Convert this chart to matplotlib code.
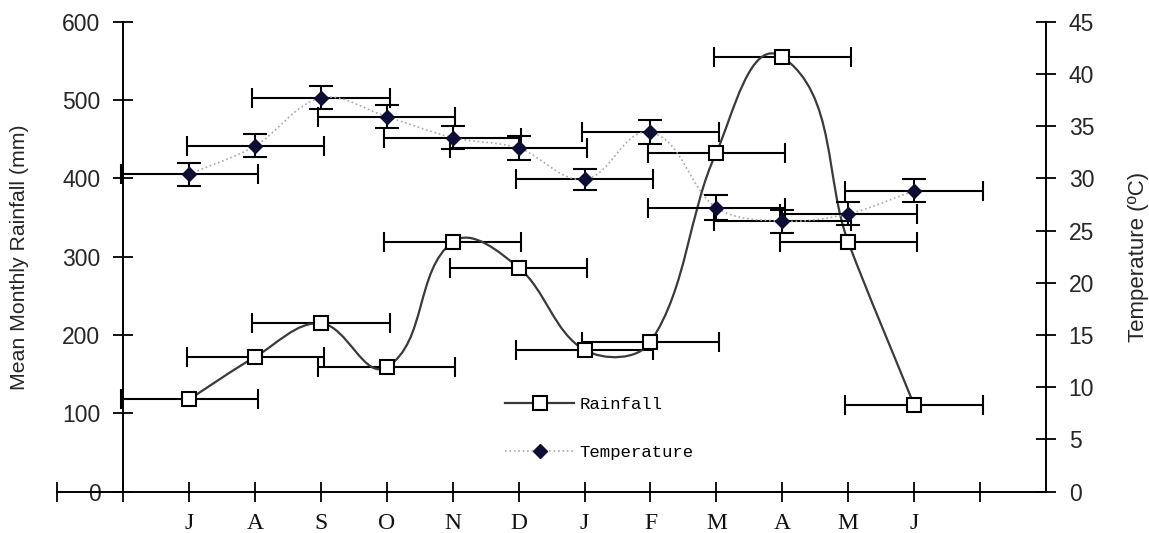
import numpy as np
import matplotlib
matplotlib.use("Agg")
import matplotlib.pyplot as plt
from matplotlib.path import Path
from matplotlib.patches import PathPatch
from matplotlib.lines import Line2D

# ---- data ----
months = ["J", "A", "S", "O", "N", "D", "J", "F", "M", "A", "M", "J"]
rainfall = [118, 172, 215, 159, 319, 286, 181, 191, 433, 555, 319, 111]
rain_xerr = [1.04] * 12
temperature = [30.4, 33.1, 37.7, 35.9, 33.9, 32.9, 29.9, 34.4, 27.2, 25.9, 26.6, 28.8]
temp_yerr = [1.1, 1.1, 1.1, 1.1, 1.1, 1.15, 1.0, 1.15, 1.2, 1.1, 1.1, 1.1]
temp_xerr = [1.04] * 12
rain_ticks = [0, 100, 200, 300, 400, 500, 600]
temp_ticks = [0, 5, 10, 15, 20, 25, 30, 35, 40, 45]

x = np.arange(1, len(months) + 1)

W, H = 1149, 533
fig = plt.figure(figsize=(W / 100, H / 100), dpi=100)
ax = fig.add_axes([57.4 / W, 41.3 / H, (1045.8 - 57.4) / W, 470.0 / H])
ax2 = ax.twinx()

ax.set_xlim(-1, 14)
ax.set_ylim(0, 600)
ax2.set_ylim(0, 45)

sans = "Liberation Sans"
serif = "Liberation Serif"
mono = "Liberation Mono"
tcol = "#262626"

# spines
ax.spines["left"].set_position(("data", 0))
for s in ["top", "right"]:
    ax.spines[s].set_visible(False)
for s in ["top", "left", "bottom"]:
    ax2.spines[s].set_visible(False)
for sp in [ax.spines["left"], ax.spines["bottom"], ax2.spines["right"]]:
    sp.set_linewidth(1.4)
    sp.set_color("black")

ax.set_yticks(rain_ticks)
ax.set_yticklabels([str(v) for v in rain_ticks], fontfamily=sans, fontsize=16.5, color=tcol)
ax2.set_yticks(temp_ticks)
ax2.set_yticklabels([str(v) for v in temp_ticks], fontfamily=sans, fontsize=16.5, color=tcol)
ax.set_xticks(np.arange(-1, 14))
ax.set_xticklabels([""] * 2 + months + [""], fontfamily=serif, fontsize=17, color="#111111")
ax.tick_params(axis="y", direction="inout", length=15, width=1.3, pad=9)
ax.tick_params(axis="x", direction="inout", length=15, width=1.3, pad=8)
ax2.tick_params(axis="y", direction="inout", length=15, width=1.3, pad=9)

ax.set_ylabel("Mean Monthly Rainfall (mm)", fontfamily=sans, fontsize=15.3, color=tcol, labelpad=24)
ax2.set_ylabel("Temperature (ºC)", fontfamily=sans, fontsize=16, color=tcol, labelpad=24)


def smooth_path(axis, xs, ys):
    pts = axis.transData.transform(np.column_stack([xs, ys]))
    n = len(pts)
    verts = [pts[0]]
    codes = [Path.MOVETO]
    for i in range(n - 1):
        p0 = pts[i - 1] if i > 0 else pts[i]
        p1 = pts[i]
        p2 = pts[i + 1]
        p3 = pts[i + 2] if i + 2 < n else pts[i + 1]
        seg = np.linalg.norm(p2 - p1)
        t1 = p2 - p0
        t1 = t1 / np.linalg.norm(t1)
        t2 = p3 - p1
        t2 = t2 / np.linalg.norm(t2)
        verts += [p1 + t1 * seg / 3, p2 - t2 * seg / 3, p2]
        codes += [Path.CURVE4] * 3
    dv = axis.transData.inverted().transform(np.array(verts))
    return Path(dv, codes)


# rainfall
ax.errorbar(x, rainfall, xerr=rain_xerr, fmt="none", ecolor="black",
            elinewidth=1.5, capsize=7, capthick=1.5, zorder=3)
ax.add_patch(PathPatch(smooth_path(ax, x, rainfall), facecolor="none",
                       edgecolor="#3a3a3a", lw=1.6, zorder=4))
ax.plot(x, rainfall, linestyle="none", marker="s", markersize=10,
        markerfacecolor="white", markeredgecolor="black", markeredgewidth=1.5, zorder=5)

# temperature
ax2.errorbar(x, temperature, xerr=temp_xerr, fmt="none", ecolor="black",
             elinewidth=1.5, capsize=7, capthick=1.5, zorder=3)
ax2.errorbar(x, temperature, yerr=temp_yerr, fmt="none", ecolor="black",
             elinewidth=1.5, capsize=8.5, capthick=1.5, zorder=3)
ax2.add_patch(PathPatch(smooth_path(ax2, x, temperature), facecolor="none",
                        edgecolor="#a8a8a8", lw=1.2, linestyle=":", zorder=4))
ax2.plot(x, temperature, linestyle="none", marker="D", markersize=7.5,
         color="#0d0d35", zorder=5)

# legend
h1 = Line2D([], [], color="#3a3a3a", lw=1.6, marker="s", markersize=10,
            markerfacecolor="white", markeredgecolor="black", markeredgewidth=1.5)
h2 = Line2D([], [], color="#a8a8a8", lw=1.2, linestyle=":", marker="D",
            markersize=7.5, markerfacecolor="#0d0d35", markeredgecolor="#0d0d35")
fig.legend([h1, h2], ["Rainfall", "Temperature"], loc="upper left",
           bbox_to_anchor=(505 / W, 1 - 397 / H), frameon=False,
           prop={"family": mono, "size": 12.5}, handlelength=4.0,
           handletextpad=0.3, labelspacing=1.9, borderpad=0, borderaxespad=0)

fig.savefig("out.png", dpi=100)
